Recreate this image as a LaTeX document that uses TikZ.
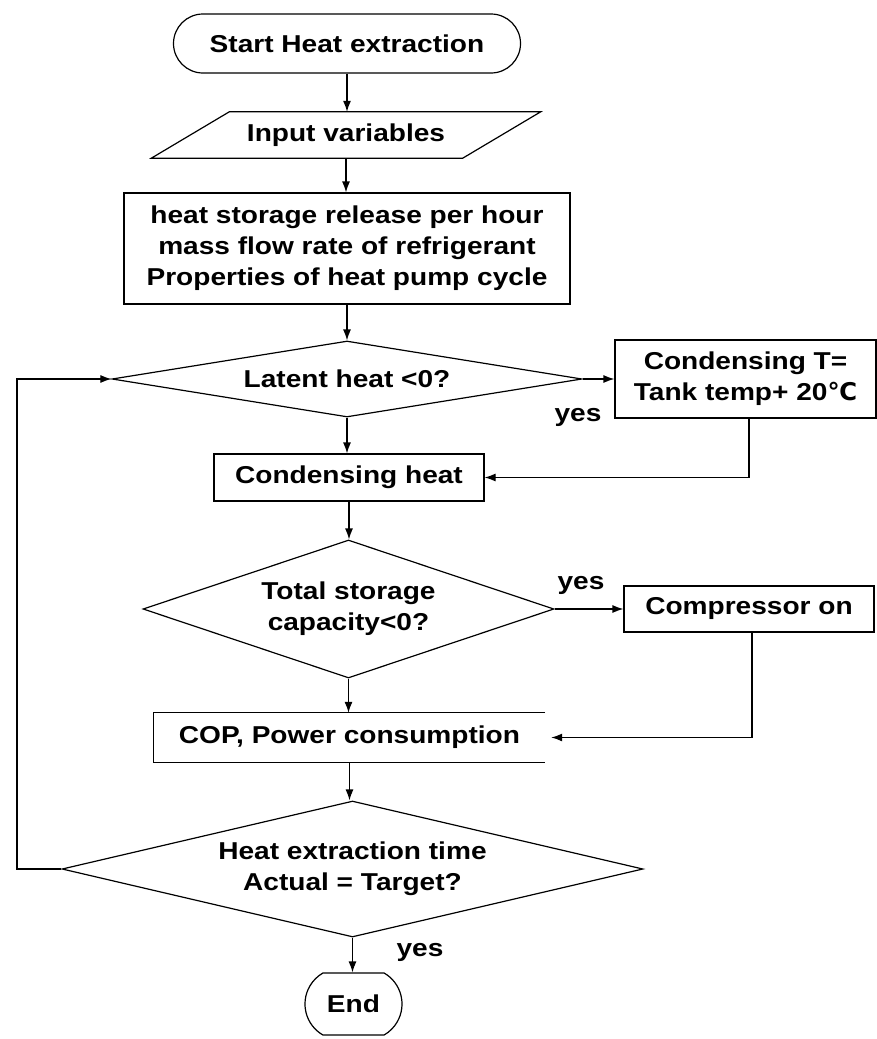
\documentclass[tikz,border=0pt]{standalone}
\usepackage{fontspec}
\setmainfont{Liberation Sans}[FakeStretch=1.15]
\newfontfamily\dejavu{DejaVu Sans}
\usetikzlibrary{shapes.geometric,shapes.misc,arrows.meta,calc}
\tikzset{
  lw/.style={line width=1.2bp},
  arr/.style={lw, -{Latex[length=11bp,width=8bp]}},
  boxnode/.style={draw, lw, rectangle},
  termnode/.style={draw, lw, rounded rectangle},
  dianode/.style={draw, lw, diamond},
  txt/.style={font=\fontsize{24.5}{31}\selectfont\bfseries, inner sep=0pt, align=center}
}
\begin{document}
\begin{tikzpicture}[x=1bp,y=-1bp, every node/.append style={txt}]
\useasboundingbox (0,0) rectangle (877,1039);

\node[termnode, minimum width=347bp, minimum height=59bp] (start) at (347,43.5) {Start Heat extraction};
\node[minimum width=311bp, minimum height=46bp] (inp) at (346,135) {Input variables};
\draw[lw] ($(inp.north west)+(39,0)$) -- ($(inp.north east)+(39,0)$) -- ($(inp.south east)+(-39,0)$) -- ($(inp.south west)+(-39,0)$) -- cycle;
\node[boxnode, minimum width=446bp, minimum height=111bp] (proc) at (347,248.5) {heat storage release per hour\\mass flow rate of refrigerant\\Properties of heat pump cycle};
\node[dianode, aspect=6.2, minimum width=470bp, minimum height=76bp] (d1) at (347,379) {Latent heat <0?};
\node[boxnode, minimum width=261bp, minimum height=78bp] (rb) at (745.5,379) {Condensing T=\\Tank temp+ 20{\dejavu\bfseries ℃}};
\node[boxnode, minimum width=270bp, minimum height=47bp] (ch) at (349,477.5) {Condensing heat};
\node[dianode, aspect=2.98, minimum width=411bp, minimum height=138bp] (d2) at (348.5,609) {Total storage\\capacity<0?};
\node[boxnode, minimum width=250bp, minimum height=46bp] (comp) at (749,609) {Compressor on};
\node[minimum width=391bp, minimum height=49bp] (cop) at (349.5,737.5) {COP, Power consumption};
\draw[lw] (cop.north east) -- (cop.north west) -- (cop.south west) -- (cop.south east);
\node[dianode, aspect=4.27, minimum width=581bp, minimum height=136bp] (d3) at (352.5,869) {Heat extraction time\\Actual = Target?};
\node[termnode, rounded rectangle arc length=120, minimum width=97bp, minimum height=62bp] (end) at (353.5,1004) {End};

\node (y1) at (578,417) {yes};
\node (y2) at (581,585) {yes};
\node (y3) at (420,952) {yes};

\draw[arr] (start.south) -- (start.south |- inp.north);
\draw[arr] (inp.south) -- (inp.south |- proc.north);
\draw[arr] (proc.south) -- (proc.south |- d1.north);
\draw[arr] (d1.south) -- (d1.south |- ch.north);
\draw[arr] (d1.east) -- (rb.west);
\draw[arr] ([xshift=3.5bp]rb.south) |- (ch.east);
\draw[arr] (ch.south) -- (ch.south |- d2.north);
\draw[arr] (d2.east) -- (comp.west);
\draw[arr] ([xshift=3bp]comp.south) |- ([xshift=6bp]cop.east);
\draw[arr] (d2.south) -- (d2.south |- cop.north);
\draw[arr] (cop.south) -- (cop.south |- d3.north);
\draw[arr] (d3.south) -- (d3.south |- end.north);
\coordinate (lp) at (17,869);
\draw[arr] (d3.west) -- (lp) |- (d1.west);
\end{tikzpicture}
\end{document}
